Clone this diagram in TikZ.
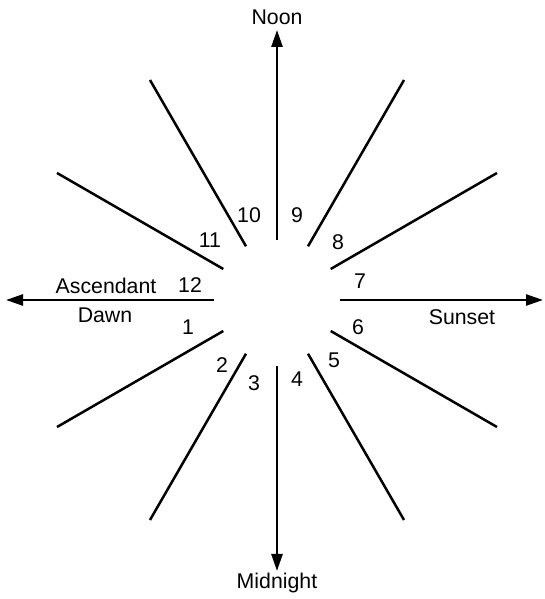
\documentclass[tikz,border=0pt]{standalone}
\usepackage{fontspec}
\setmainfont{Liberation Sans}
\usetikzlibrary{arrows.meta,calc}
\begin{document}
\begin{tikzpicture}[x=1pt,y=1pt,
  ray/.style={line width=2.5pt},
  axis/.style={line width=2.5pt,-{Triangle[length=17pt,width=11pt]}},
  lbl/.style={font=\fontsize{21.3}{25}\selectfont,inner sep=0pt},
  ]
\useasboundingbox (0,0) rectangle (544,599);
\coordinate (c) at (277,299);
% axes
\coordinate (wi) at ($(c)+(-63,0)$);
\coordinate (wo) at ($(c)+(-271,0)$);
\coordinate (ei) at ($(c)+(63,0)$);
\coordinate (eo) at ($(c)+(266,0)$);
\coordinate (ni) at ($(c)+(0,60)$);
\coordinate (no) at ($(c)+(0,270)$);
\coordinate (si) at ($(c)+(0,-66)$);
\coordinate (so) at ($(c)+(0,-271)$);
\draw[axis] (wi) -- (wo);
\draw[axis] (ei) -- (eo);
\draw[axis] (ni) -- (no);
\draw[axis] (si) -- (so);
% rays
\foreach \a in {30,60,120,150,210,240,300,330}{
  \coordinate (i\a) at ($(c)+(\a:62)$);
  \coordinate (o\a) at ($(c)+(\a:254)$);
  \draw[ray] (i\a) -- (o\a);
}
% house numbers
\node[lbl] (h1) at (188,272) {1};
\node[lbl] (h2) at (222,234) {2};
\node[lbl] (h3) at (254,216) {3};
\node[lbl] (h4) at (297,220) {4};
\node[lbl] (h5) at (334,239) {5};
\node[lbl] (h6) at (358,272) {6};
\node[lbl] (h7) at (360,318) {7};
\node[lbl] (h8) at (338,357) {8};
\node[lbl] (h9) at (297,384) {9};
\node[lbl] (h10) at (249,384) {10};
\node[lbl] (h11) at (210,359) {11};
\node[lbl] (h12) at (190,314) {12};
% direction labels
\node[lbl] (asc) at (106,313) {Ascendant};
\node[lbl] (dawn) at (105,284) {Dawn};
\node[lbl] (sunset) at (462,282) {Sunset};
\node[lbl] (noon) at (277,582) {Noon};
\node[lbl] (midnight) at (277,16) {Midnight};
\end{tikzpicture}
\end{document}
